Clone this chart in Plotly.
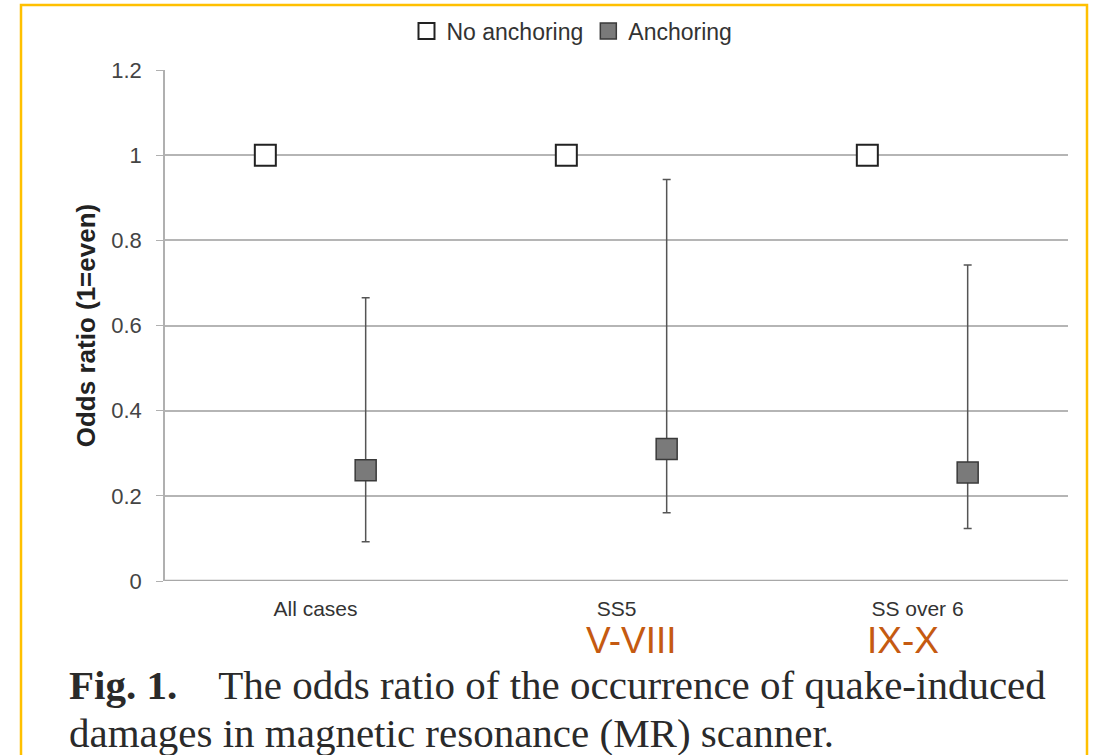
import plotly.graph_objects as go
import numpy as np

categories = ["All cases", "SS5", "SS over 6"]
no_anchoring = [1.0, 1.0, 1.0]
anchoring = [0.26, 0.31, 0.255]
anchoring_upper = [0.665, 0.943, 0.742]
anchoring_lower = [0.092, 0.160, 0.123]
y_ticks = [0, 0.2, 0.4, 0.6, 0.8, 1, 1.2]
intensity_labels = ["V-VIII", "IX-X"]
intensity_label_x_px = [631, 903]

idx = np.arange(len(categories))
off = 1 / 6

err_plus = [u - v for u, v in zip(anchoring_upper, anchoring)]
err_minus = [v - l for v, l in zip(anchoring, anchoring_lower)]

fig = go.Figure()
fig.add_trace(go.Scatter(
    x=idx - off, y=no_anchoring, mode="markers", name="No anchoring",
    marker=dict(symbol="square", size=21, color="white",
                line=dict(color="#222222", width=2)),
))
fig.add_trace(go.Scatter(
    x=idx + off, y=anchoring, mode="markers", name="Anchoring",
    marker=dict(symbol="square", size=21, color="#7a7a7a",
                line=dict(color="#3a3a3a", width=1.5)),
    error_y=dict(type="data", symmetric=False, array=err_plus,
                 arrayminus=err_minus, color="#555555", thickness=1.5, width=4),
))

W, H = 1102, 755
L, R, T, B = 165, 1068, 70, 581


def px(xp):
    return (xp - L) / (R - L)


def py(yp):
    return (B - yp) / (B - T)


fig.update_layout(
    width=W, height=H,
    margin=dict(l=L, r=W - R, t=T, b=H - B, autoexpand=False),
    paper_bgcolor="white", plot_bgcolor="white",
    font=dict(family="Liberation Sans, Arial, sans-serif", color="#333333"),
    showlegend=True,
    legend=dict(orientation="h", xref="paper", x=px(572), xanchor="center",
                yref="container", y=1 - 31 / H,
                yanchor="middle", font=dict(size=23, color="#333333"),
                itemwidth=30, bgcolor="rgba(0,0,0,0)"),
    xaxis=dict(range=[-0.5, 2.5], tickvals=list(idx), ticktext=categories,
               showgrid=False, zeroline=False, showline=False,
               ticks="outside", ticklen=9, tickcolor="rgba(0,0,0,0)",
               tickfont=dict(size=21, color="#333333"), fixedrange=True),
    yaxis=dict(range=[0, 1.2], tickvals=y_ticks,
               showgrid=True, gridcolor="#b5b5b5", gridwidth=1.5,
               zeroline=False, showline=True, linecolor="#b0b0b0", linewidth=1.5,
               ticks="outside", ticklen=7, tickcolor="#b0b0b0",
               ticklabelstandoff=10,
               tickfont=dict(size=22, color="#444444"),
               title=dict(text="<b>Odds ratio (1=even)</b>",
                          font=dict(size=26, color="#222222"), standoff=8)),
)

# x-axis baseline (darker)
fig.add_shape(type="line", xref="paper", yref="y", x0=0, x1=1, y0=0, y1=0,
              line=dict(color="#a8a8a8", width=2.5), layer="above")

# yellow frame
fig.add_shape(type="rect", xref="paper", yref="paper",
              x0=px(21), x1=px(1087), y0=py(775), y1=py(5),
              line=dict(color="#FFC000", width=2.5), fillcolor="rgba(0,0,0,0)")

for lab, xp in zip(intensity_labels, intensity_label_x_px):
    fig.add_annotation(x=px(xp), xref="paper", y=py(640), yref="paper", text=lab,
                       showarrow=False, xanchor="center", yanchor="middle",
                       borderpad=0,
                       font=dict(family="Liberation Sans, Arial, sans-serif",
                                 size=37, color="#C55A11"))

nb = "\u00a0"
fig.add_annotation(x=px(68), y=py(685), xref="paper", yref="paper",
                   text="<b>Fig. 1.</b>" + nb * 4 + "The odds ratio of the occurrence of quake-induced",
                   showarrow=False, xanchor="left", yanchor="middle", borderpad=0,
                   font=dict(family="Liberation Serif, Times New Roman, serif",
                             size=41, color="#2a2a2a"))
fig.add_annotation(x=px(68), y=py(733), xref="paper", yref="paper",
                   text="damages in magnetic resonance (MR) scanner.",
                   showarrow=False, xanchor="left", yanchor="middle", borderpad=0,
                   font=dict(family="Liberation Serif, Times New Roman, serif",
                             size=41, color="#2a2a2a"))

fig.write_html("out.html", config={"displayModeBar": False},
               post_script="document.body.style.margin='0px';")
